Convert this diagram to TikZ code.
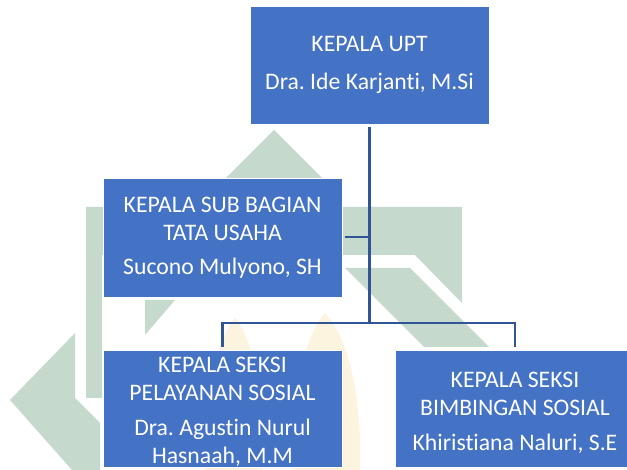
\documentclass[tikz,border=0pt]{standalone}
\usepackage{fontspec}
\setmainfont[Ligatures={NoCommon}]{Carlito}
\frenchspacing
\definecolor{boxblue}{HTML}{4472C4}
\definecolor{linkblue}{HTML}{2F5597}
\definecolor{wmgreen}{HTML}{C6D9CD}
\definecolor{wmyellow}{HTML}{FBEBC6}
\begin{document}
\begin{tikzpicture}[x=1pt,y=-1pt,
  orgbox/.style={draw=white, line width=0.8pt, fill=boxblue, text=white,
    inner sep=0pt, align=center, minimum width=239pt, minimum height=118pt,
    font=\fontsize{23.7}{28}\selectfont\frenchspacing},
  boxtext/.style={text=white, inner sep=0pt, align=center,
    font=\fontsize{23.7}{27.5}\selectfont\frenchspacing},
  link/.style={draw=linkblue, line width=2.6pt},
  wm/.style={fill=wmgreen},
  wmy/.style={fill=wmyellow, opacity=0.55}]
\useasboundingbox (0,0) rectangle (627,470);
\begin{scope}
\clip (0,0) rectangle (627,470);
% watermark (faint logo)
\fill[wm] (274,130) -- (322,178) -- (226,178) -- cycle;
\fill[wm] (86,207) -- (462,207) -- (462,303) -- (415,255) -- (102,255) -- (102,398) -- (86,398) -- cycle;
\fill[wm] (345,268) -- (410,268) -- (489,347) -- (424,347) -- cycle;
\fill[wm] (145,300) -- (175,300) -- (145,335) -- cycle;
\fill[wm] (10,400) -- (75,333) -- (75,398) -- (100,423) -- (100,470) -- (72,470) -- cycle;
\fill[wmy] (235,318) .. controls (255,340) and (262,400) .. (262,470) -- (205,470) .. controls (205,400) and (215,340) .. (235,318) -- cycle;
\fill[wmy] (325,313) .. controls (350,340) and (362,400) .. (360,470) -- (292,470) .. controls (292,400) and (302,340) .. (325,313) -- cycle;
% boxes
\node[orgbox] (top) at (369.5,65) {KEPALA UPT\\[10pt]Dra. Ide Karjanti, M.Si};
\node[orgbox, minimum height=119pt] (sub) at (222.5,237.5) {KEPALA SUB BAGIAN\\TATA USAHA\\[6pt]Sucono Mulyono, SH};
\node[orgbox, minimum height=117pt] (pel) at (222.5,408.5) {};
\node[orgbox, minimum height=117pt] (bim) at (515,408.5) {};
\node[boxtext] (pelt) at (222.5,412) {KEPALA SEKSI\\PELAYANAN SOSIAL\\[8pt]Dra. Agustin Nurul\\Hasnaah, M.M};
\node[boxtext] (bimt) at (515,413) {KEPALA SEKSI\\BIMBINGAN SOSIAL\\[8pt]Khiristiana Naluri, S.E};
% connectors
\coordinate (j1) at (369.5,237);
\coordinate (j2) at (369.5,323);
\draw[link, shorten <=3pt] (top.south) -- (j2);
\draw[link, shorten <=3pt] (sub.east |- j1) -- (j1);
\draw[link, shorten <=3pt, shorten >=3pt] (pel.north) |- (j2) -| (bim.north);
\end{scope}
\end{tikzpicture}
\end{document}
